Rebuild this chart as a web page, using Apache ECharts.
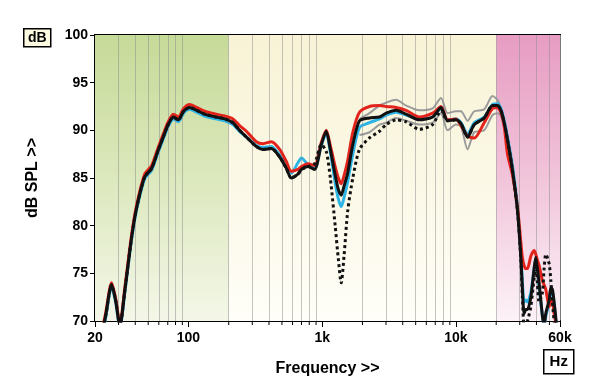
<!DOCTYPE html>
<html><head><meta charset="utf-8">
<script src="https://cdn.jsdelivr.net/npm/echarts@6/dist/echarts.min.js"></script>
<style>html,body{margin:0;padding:0;background:#fff}#c{width:600px;height:389px}</style>
</head><body><div id="c"></div>
<script>
// Frequencies (Hz) shared by the measured curves
const freq = [22,24,26.6,28.5,30.7,33.5,37.6,41,47,53,
  59,66,70,77,84,92,102,115,132,160,
  187,215,241,271,322,360,417,481,540,587,
  658,700,781,877,984,1072,1150,1250,1320,1387,
  1460,1550,1694,1900,2256,2680,3006,3568,4236,5322,
  6694,7730,8667,10000,10910,12220,13710,16260,18760,20460,
  21680,22960,24300,26490,28840,30560,31420,32360,33340,34270,
  36310,38430,39540,40640,41880,44360,45640,47000,49770,51210,
  52660,54200,55850,57500];

const blackSolid = [68,70.5,73.8,72.2,69.5,73.3,78.8,81.9,85.1,86.0,
  87.8,89.6,90.5,91.4,91.1,92.0,92.4,92.1,91.7,91.4,
  91.2,90.8,90.0,89.3,88.3,88.0,88.1,87.2,86.0,85.0,
  85.4,85.9,86.2,85.9,88.5,89.9,88.0,85.3,83.8,83.2,
  84.2,85.5,88.5,91.0,91.3,91.4,91.8,92.1,91.7,91.1,
  91.4,92.4,91.0,91.1,90.7,89.3,90.6,91.3,92.6,92.6,
  92.1,90.8,89.0,85.8,81.6,76.7,73.3,70.8,71.2,71.2,
  72.5,75.5,76.7,75.5,74.0,70.5,69.5,70.8,72.2,73.5,
  73.3,72.0,70.3,68];

const redLine = [68.2,70.8,74.0,72.4,69.7,73.6,79.1,82.2,85.4,86.3,
  88.1,89.9,90.8,91.7,91.4,92.3,92.7,92.4,92.0,91.7,
  91.5,91.2,90.5,89.9,88.8,88.6,88.8,88.0,86.7,85.7,
  85.9,86.2,86.5,86.3,88.7,90.0,88.4,86.2,85.0,84.4,
  85.3,86.8,89.8,91.9,92.5,92.6,92.5,92.4,92.1,91.4,
  91.8,92.5,91.1,91.2,90.5,89.4,89.2,90.8,92.3,92.4,
  91.9,90.4,87.5,85.3,82.0,78.3,76.6,75.8,75.5,75.5,
  76.8,77.4,77.0,76.4,75.8,74.2,73.8,73.3,71.5,72.3,
  72.0,70.8,69.8,68.5];

const cyanLine = [67.8,70.3,73.6,72.0,69.3,73.1,78.6,81.7,84.9,85.8,
  87.6,89.4,90.3,91.2,90.9,91.8,92.2,91.9,91.5,91.2,
  91.0,90.6,89.9,89.3,88.4,88.2,88.3,87.4,86.3,85.5,
  86.6,87.1,86.4,86.0,88.4,89.7,87.7,84.5,82.8,82.0,
  83.0,84.6,87.5,90.3,90.8,91.2,91.6,91.9,91.6,91.2,
  91.4,92.3,91.1,91.2,90.8,89.6,90.8,91.4,92.7,92.8,
  92.3,91.0,89.3,86.2,82.0,77.0,74.0,72.0,72.2,72.0,
  73.0,75.5,76.5,75.2,73.5,70.5,69.5,70.5,72.0,73.2,
  73.0,71.8,70.0,68];

const blackDotted = [68,70.5,73.8,72.2,69.5,73.3,78.8,81.9,85.1,86.0,
  87.8,89.6,90.5,91.4,91.1,92.0,92.4,92.1,91.7,91.4,
  91.2,90.8,90.0,89.3,88.3,88.0,88.1,87.2,86.0,85.0,
  85.4,85.9,86.2,86.5,88.5,87.8,85.0,80.0,76.5,74.0,
  77.0,81.5,85.0,88.0,89.2,89.9,90.6,91.1,90.9,90.1,
  90.6,92.1,91.0,91.1,90.7,89.3,90.6,91.3,92.6,92.6,
  92.1,90.8,89.0,85.8,81.6,76.5,72.5,69.5,69.5,70.0,
  71.5,74.5,75.5,74.0,72.0,73.0,75.5,77.0,76.0,74.3,
  72.0,70.0,69.0,68];

// Grey spread curves (1.9 kHz - 23 kHz)
const grayFreq = [1900,2256,2680,3006,3568,4236,5322,6694,7730,8667,10000,10910,12220,13710,16260,18760,20460,21680,22960];
const grayUpper = [91.2,91.8,92.6,92.9,93.2,92.6,92.1,92.3,93.4,91.8,92.0,92.0,91.0,92.0,92.2,93.6,93.2,92.3,91.0];
const grayLower = [89.5,89.8,90.6,90.8,91.3,91.0,90.6,90.8,91.8,90.0,90.6,90.4,88.0,89.8,90.0,91.6,91.8,91.5,90.5];

// Background bands (Hz)
const bandEdges = [20, 200, 20000, 60000];
// Minor log grid positions
const minorFreqs = [];
[10,100,1000,10000].forEach(d => { for (let k = 2; k <= 9; k++) { const f = k*d; if (f > 20 && f < 60000 && f !== 100 && f !== 1000 && f !== 10000) minorFreqs.push(f); } });

const pairs = (xs, ys) => xs.map((x, i) => [x, ys[i]]);
const FONT = '"Liberation Sans", Arial, sans-serif';
const grad = (c0, c1, c2) => new echarts.graphic.LinearGradient(0, 0, 0, 1, [{offset:0,color:c0},{offset:0.5,color:c1},{offset:1,color:c2}]);

const chart = echarts.init(document.getElementById('c'), null, {renderer:'canvas'});
const lineBase = {type:'line', showSymbol:false, smooth:0.25, clip:true, silent:true, animation:false};

chart.setOption({
  animation:false,
  grid:{left:95, right:40, top:35, bottom:68, show:true, borderColor:'#000', borderWidth:2, backgroundColor:'transparent'},
  xAxis:{type:'log', logBase:10, min:20, max:60000,
    name:'Frequency >>', nameLocation:'middle', nameGap:40,
    nameTextStyle:{fontFamily:FONT, fontWeight:'bold', fontSize:16, color:'#000'},
    axisLine:{show:true, lineStyle:{color:'#000', width:2}},
    axisTick:{show:true, length:6, lineStyle:{color:'#000', width:1}},
    axisLabel:{margin:10, fontFamily:FONT, fontWeight:'bold', fontSize:14, color:'#000', showMinLabel:true, showMaxLabel:true,
      formatter:v => v >= 1000 ? Math.round(v/1000)+'k' : String(Math.round(v))},
    splitLine:{show:true, lineStyle:{color:'#7a7a7a', width:1}}},
  yAxis:{type:'value', min:70, max:100, interval:5,
    name:'dB SPL >>', nameLocation:'middle', nameGap:54, nameRotate:90,
    nameTextStyle:{fontFamily:FONT, fontWeight:'bold', fontSize:16, color:'#000'},
    axisLine:{show:true, lineStyle:{color:'#000', width:2}},
    axisTick:{show:true, length:5, lineStyle:{color:'#000', width:1}},
    axisLabel:{margin:7, fontFamily:FONT, fontWeight:'bold', fontSize:14, color:'#000'},
    splitLine:{show:true, lineStyle:{color:'#8a8a8a', width:1}}},
  graphic:[
    {type:'group', left:23, top:28, children:[
      {type:'rect', shape:{x:0,y:0,width:27,height:18}, style:{fill:'#fcfae0', stroke:'#000', lineWidth:1.5}},
      {type:'text', x:13.5, y:9, style:{text:'dB', font:'bold 14px '+FONT, fill:'#000', align:'center', verticalAlign:'middle'}}
    ]},
    {type:'group', left:543, top:349, children:[
      {type:'rect', shape:{x:0,y:0,width:30,height:24}, style:{fill:'#fff', stroke:'#000', lineWidth:1.5}},
      {type:'text', x:15, y:12, style:{text:'Hz', font:'bold 15px '+FONT, fill:'#000', align:'center', verticalAlign:'middle'}}
    ]}
  ],
  series:[
    {type:'line', data:[], z:-2, silent:true,
      markArea:{silent:true, data:[
        [{xAxis:bandEdges[0], itemStyle:{color:grad('#c6da98','#dce8bd','#f4f7e8')}}, {xAxis:bandEdges[1]}],
        [{xAxis:bandEdges[1], itemStyle:{color:grad('#f8f3d5','#fbf8e6','#fffef8')}}, {xAxis:bandEdges[2]}],
        [{xAxis:bandEdges[2], itemStyle:{color:grad('#e79cc2','#f1c4da','#fcf2f7')}}, {xAxis:bandEdges[3]}]
      ]}},
    {type:'line', data:[], z:-1, silent:true,
      markLine:{silent:true, symbol:'none', label:{show:false}, animation:false,
        lineStyle:{color:'rgba(140,140,140,0.5)', width:1, type:'solid'},
        data:minorFreqs.map(f => ({xAxis:f}))}},
    {type:'custom', silent:true, z:5, clip:false, data:minorFreqs.map(f => [f, 70]),
      renderItem:(params, api) => { const p = api.coord([api.value(0), 70]);
        return {type:'line', shape:{x1:p[0], y1:p[1]+1, x2:p[0], y2:p[1]+4}, style:{stroke:'#000', lineWidth:1}}; }},
    Object.assign({}, lineBase, {name:'grayUpper', data:pairs(grayFreq, grayUpper), lineStyle:{color:'#9b9b9b', width:2}, z:3}),
    Object.assign({}, lineBase, {name:'grayLower', data:pairs(grayFreq, grayLower), lineStyle:{color:'#9b9b9b', width:2}, z:3}),
    Object.assign({}, lineBase, {name:'cyan', data:pairs(freq, cyanLine), lineStyle:{color:'#2cb4e6', width:3}, z:4}),
    Object.assign({}, lineBase, {name:'red', data:pairs(freq, redLine), lineStyle:{color:'#e2231c', width:3}, z:5}),
    Object.assign({}, lineBase, {name:'dotted', data:pairs(freq, blackDotted), lineStyle:{color:'#111', width:3, type:'dotted'}, z:6}),
    Object.assign({}, lineBase, {name:'black', data:pairs(freq, blackSolid), lineStyle:{color:'#111', width:3}, z:7})
  ]
});
</script></body></html>
